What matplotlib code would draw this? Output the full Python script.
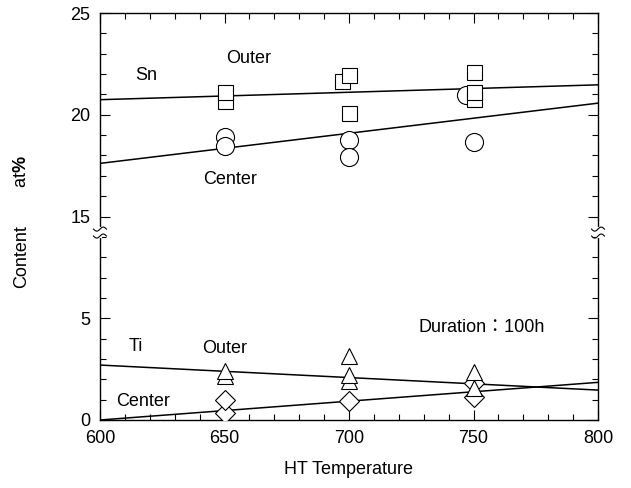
import numpy as np
import matplotlib
matplotlib.use('Agg')
import matplotlib.pyplot as plt

plt.rcParams['font.family'] = ['Liberation Sans', 'Noto Sans CJK JP', 'DejaVu Sans']
plt.rcParams['mathtext.fontset'] = 'custom'
plt.rcParams['mathtext.rm'] = 'Liberation Sans'
plt.rcParams['mathtext.bf'] = 'Liberation Sans:bold'

# values (at%)
sn_outer_x = [650, 650, 700, 697, 700, 750, 750, 750]
sn_outer_y = [20.69, 21.10, 20.11, 21.67, 21.93, 20.77, 21.10, 22.08]
sn_center_x = [650, 650, 700, 700, 747, 750]
sn_center_y = [18.92, 18.48, 18.76, 17.90, 20.97, 18.64]
ti_outer_x = [650, 650, 700, 700, 700, 750, 750]
ti_outer_y = [2.14, 2.41, 1.93, 2.23, 3.16, 1.59, 2.37]
ti_center_x = [650, 650, 700, 750, 750]
ti_center_y = [0.36, 1.00, 0.93, 1.15, 1.83]

fit_x = [600, 800]
sn_outer_fit = [20.74, 21.47]
sn_center_fit = [17.61, 20.57]
ti_outer_fit = [2.70, 1.47]
ti_center_fit = [0.00, 1.85]

ytick_vals = [0, 5, 15, 20, 25]
xtick_vals = [600, 650, 700, 750, 800]


def brk(v):
    # broken axis: everything above the gap (5..15 removed) shifts down by 5
    v = np.asarray(v, dtype=float)
    return np.where(v > 10, v - 5, v)


fig = plt.figure(figsize=(6.31, 4.88), dpi=100)
ax = fig.add_axes([100 / 631, 68 / 488, 498 / 631, 407 / 488])

lw = 1.1
for fit in (sn_outer_fit, sn_center_fit, ti_outer_fit, ti_center_fit):
    ax.plot(fit_x, brk(fit), color='black', lw=lw, zorder=2)

mk = dict(linestyle='none', mfc='white', mec='black', mew=0.8, zorder=3)
ax.plot(sn_center_x, brk(sn_center_y), marker='o', ms=13, **mk)
ax.plot(sn_outer_x, brk(sn_outer_y), marker='s', ms=10.8, **mk)
ax.plot(ti_center_x, brk(ti_center_y), marker='D', ms=10.5, **mk)
ax.plot(ti_outer_x, brk(ti_outer_y), marker='^', ms=12, **mk)

ax.set_xlim(600, 800)
ax.set_ylim(0, 20)
ax.set_xticks(xtick_vals)
ax.set_xticks(np.arange(600, 801, 10), minor=True)
ax.set_yticks(brk(ytick_vals))
ax.set_yticklabels([str(v) for v in ytick_vals])
ax.set_yticks(np.arange(0, 21, 1), minor=True)
ax.tick_params(which='both', direction='in', top=True, right=True,
               labelsize=13, width=0.8, pad=7)
ax.tick_params(which='major', length=7)
ax.tick_params(which='minor', length=4)
for s in ax.spines.values():
    s.set_linewidth(1.0)

ax.set_xlabel('HT Temperature', fontsize=13, labelpad=10)
fig.text(22 / 631, 1 - 257 / 488, 'Content', rotation=90, fontsize=13,
         ha='center', va='center')
fig.text(22 / 631, 1 - 172 / 488, r'at$\mathbf{\%}$', rotation=90, fontsize=13,
         ha='center', va='center')

# annotations
fs = 13
ax.text(618.5, brk(21.95), 'Sn', fontsize=fs, ha='center', va='center')
ax.text(659.8, brk(22.76), 'Outer', fontsize=fs, ha='center', va='center')
ax.text(652.2, brk(16.82), 'Center', fontsize=fs, ha='center', va='center')
ax.text(614.3, 3.61, 'Ti', fontsize=fs, ha='center', va='center')
ax.text(650.2, 3.49, 'Outer', fontsize=fs, ha='center', va='center')
ax.text(617.1, 0.91, 'Center', fontsize=fs, ha='center', va='center')
ax.text(753.4, 4.55, 'Duration：100h', fontsize=fs, ha='center', va='center')

# axis break marks on both sides
tr = ax.get_yaxis_transform()
t = np.linspace(-0.013, 0.013, 40)
for x0 in (0.0, 1.0):
    ax.plot([x0, x0], [9.02, 9.40], color='white', lw=3, transform=tr,
            clip_on=False, zorder=5)
    for y0 in (9.38, 9.04):
        ax.plot(x0 + t, y0 + 0.1 * np.sin(2 * np.pi * t / 0.026), color='black',
                lw=0.8, transform=tr, clip_on=False, zorder=6)

fig.savefig('out.png', dpi=100)
